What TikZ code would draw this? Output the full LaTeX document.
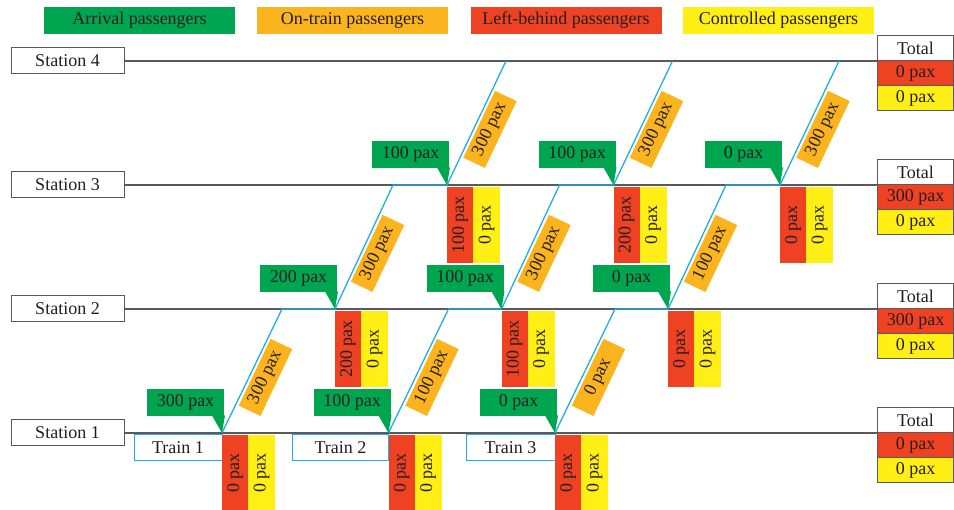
\documentclass[tikz,border=0pt]{standalone}
\usepackage{fontspec}
\setmainfont{Liberation Serif}
\usetikzlibrary{calc}
\definecolor{cgreen}{RGB}{0,165,80}
\definecolor{corange}{RGB}{252,180,30}
\definecolor{cred}{RGB}{239,66,35}
\definecolor{cyel}{RGB}{255,239,20}
\definecolor{ccyan}{RGB}{30,175,230}
\definecolor{ctext}{RGB}{35,31,32}
\definecolor{cline}{RGB}{90,90,90}
\tikzset{
  lbl/.style={inner sep=0pt, outer sep=0pt, text=ctext, font=\fontsize{18}{18}\selectfont},
  legendbox/.style={lbl, minimum width=191pt, minimum height=27pt},
  stationbox/.style={lbl, draw=cline, line width=1pt, fill=white, minimum width=113pt, minimum height=26pt},
  totbox/.style={lbl, draw=cline, line width=1pt, minimum width=76pt, minimum height=25pt},
  trainbox/.style={lbl, draw=ccyan, line width=1pt, fill=white, minimum height=26pt},
  arrbox/.style={lbl, fill=cgreen, minimum width=77pt, minimum height=27pt},
  redbox/.style={lbl, fill=cred, rotate=90, minimum width=76pt, minimum height=26pt},
  yelbox/.style={lbl, fill=cyel, rotate=90, minimum width=76pt, minimum height=27pt},
  onbox/.style={lbl, fill=corange, rotate=64.6, minimum width=74pt, minimum height=24pt},
  stline/.style={draw=cline, line width=1.2pt},
  trainline/.style={draw=ccyan, line width=1.3pt},
}
\newcommand\depart[4]{%
  \node[arrbox, anchor=south east] (arr-#1) at ($(#1)+(2,-17)$) {#2};
  \fill[cgreen] ($(#1)+(-10,-17.5)$) -- ($(#1)+(3,-17.5)$) -- (#1) -- cycle;
  \node[redbox] (lb-#1) at ($(#1)+(13,40)$) {#3};
  \node[yelbox] (ct-#1) at ($(#1)+(39.5,40)$) {#4};
}
\newcommand\onboard[3]{%
  \node[onbox] (on-#1) at ($(#1)!0.5!(#2)+(13.5,6.4)$) {#3};
}
\begin{document}
\begin{tikzpicture}[x=1pt,y=-1pt]
\useasboundingbox (0,0) rectangle (954,510);
% legend
\node[legendbox, fill=cgreen] (lg1) at (139.5,20.5) {Arrival passengers};
\node[legendbox, fill=corange] (lg2) at (352.5,20.5) {On-train passengers};
\node[legendbox, fill=cred] (lg3) at (566,20.5) {Left-behind passengers};
\node[legendbox, fill=cyel] (lg4) at (778.5,20.5) {Controlled passengers};
% stations
\foreach \s/\y in {4/61,3/185,2/309,1/433}{
  \node[stationbox] (s\s) at (67.5,\y) {Station \s};
  \node[totbox, fill=white] (tot\s) at (915.5,\y-12.5) {Total};
  \draw[stline] (s\s.east) -- (tot\s.south west);
}
\node[totbox, fill=cred, anchor=north] (tr4) at (tot4.south) {0 pax};
\node[totbox, fill=cyel, anchor=north] (ty4) at (tr4.south) {0 pax};
\node[totbox, fill=cred, anchor=north] (tr3) at (tot3.south) {300 pax};
\node[totbox, fill=cyel, anchor=north] (ty3) at (tr3.south) {0 pax};
\node[totbox, fill=cred, anchor=north] (tr2) at (tot2.south) {300 pax};
\node[totbox, fill=cyel, anchor=north] (ty2) at (tr2.south) {0 pax};
\node[totbox, fill=cred, anchor=north] (tr1) at (tot1.south) {0 pax};
\node[totbox, fill=cyel, anchor=north] (ty1) at (tr1.south) {0 pax};
% trains
\foreach \i/\xo/\tw in {1/222/88,2/388.5/96,3/555/89}{
  \coordinate (d1-\i) at (\xo,433);
  \coordinate (a2-\i) at (\xo+60,309);
  \coordinate (d2-\i) at (\xo+113,309);
  \coordinate (a3-\i) at (\xo+171,185);
  \coordinate (d3-\i) at (\xo+225,185);
  \coordinate (a4-\i) at (\xo+284,61);
  \draw[trainline] (d1-\i) -- (a2-\i) -- (d2-\i) -- (a3-\i) -- (d3-\i) -- (a4-\i);
  \node[trainbox, minimum width=\tw pt, anchor=north east] (train\i) at ($(d1-\i)+(0,2)$) {Train \i};
}
% station 1
\depart{d1-1}{300 pax}{0 pax}{0 pax}
\depart{d1-2}{100 pax}{0 pax}{0 pax}
\depart{d1-3}{0 pax}{0 pax}{0 pax}
% station 2
\depart{d2-1}{200 pax}{200 pax}{0 pax}
\depart{d2-2}{100 pax}{100 pax}{0 pax}
\depart{d2-3}{0 pax}{0 pax}{0 pax}
% station 3
\depart{d3-1}{100 pax}{100 pax}{0 pax}
\depart{d3-2}{100 pax}{200 pax}{0 pax}
\depart{d3-3}{0 pax}{0 pax}{0 pax}
% on-train
\onboard{d1-1}{a2-1}{300 pax}
\onboard{d1-2}{a2-2}{100 pax}
\onboard{d1-3}{a2-3}{0 pax}
\onboard{d2-1}{a3-1}{300 pax}
\onboard{d2-2}{a3-2}{300 pax}
\onboard{d2-3}{a3-3}{100 pax}
\onboard{d3-1}{a4-1}{300 pax}
\onboard{d3-2}{a4-2}{300 pax}
\onboard{d3-3}{a4-3}{300 pax}
\end{tikzpicture}
\end{document}
